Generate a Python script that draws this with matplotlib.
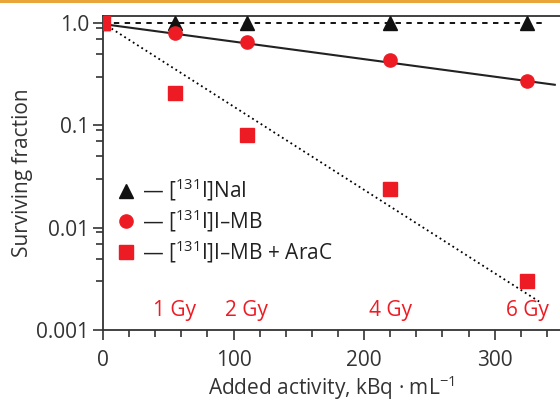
import numpy as np
import matplotlib
matplotlib.use("Agg")
import matplotlib.pyplot as plt
from matplotlib.lines import Line2D
from matplotlib.ticker import LogLocator, MultipleLocator, FixedFormatter, FixedLocator

plt.rcParams["font.family"] = ["Open Sans", "DejaVu Sans"]

# ---------------------------------------------------------
# Data
# ---------------------------------------------------------

activity = [0, 55, 110, 220, 325]

sf_nai = [1.0, 1.0, 1.0, 1.0, 1.0]
sf_mb = [1.0, 0.80, 0.66, 0.44, 0.27]
sf_mb_arac = [1.0, 0.21, 0.080, 0.024, 0.0030]

# fitted curves (end points)
fit_nai_x = [0, 338]
fit_nai_y = [1.0, 1.0]
fit_mb_x = [0, 346]
fit_mb_y = [0.98, 0.25]
fit_arac_x = [0, 334]
fit_arac_y = [1.0, 0.0019]

dose_x = [55, 110, 220, 325]
dose_labels = ["1 Gy", "2 Gy", "4 Gy", "6 Gy"]
dose_y = 0.00155

red = "#ED1C24"
axis_col = "#333333"
fs = 15

fig = plt.figure(figsize=(5.6, 4.05), dpi=100)
ax = fig.add_axes([0.184, 0.185, 0.816, 0.775])

# fits
ax.plot(fit_nai_x, fit_nai_y, color="black", lw=1.3, linestyle=(0, (3, 3)))
ax.plot(fit_mb_x, fit_mb_y, color="#222222", lw=1.5)
# dotted fit drawn in log space so it is straight
xs = np.linspace(fit_arac_x[0], fit_arac_x[1], 60)
ys = 10 ** np.interp(xs, fit_arac_x, np.log10(fit_arac_y))
ax.plot(xs, ys, color="black", lw=1.3, linestyle=(0, (1, 1.8)))

# data points
ax.plot(activity, sf_nai, linestyle="none", marker="^", ms=9.5,
        color="#111111", zorder=3)
ax.plot(activity, sf_mb, linestyle="none", marker="o", ms=9.5,
        color=red, zorder=4)
ax.plot(activity, sf_mb_arac, linestyle="none", marker="s", ms=9.5,
        color=red, zorder=5)

for x, lab in zip(dose_x, dose_labels):
    ax.text(x, dose_y, lab, color=red, fontsize=fs,
            ha="center", va="center")

ax.set_yscale("log")
ax.set_xlim(0, 350)
ax.set_ylim(0.001, 1.17)

ax.yaxis.set_major_locator(FixedLocator([0.001, 0.01, 0.1, 1.0]))
ax.yaxis.set_major_formatter(FixedFormatter(["0.001", "0.01", "0.1", "1.0"]))
ax.yaxis.set_minor_locator(LogLocator(base=10, subs=(3, 5, 7, 9)))
ax.yaxis.set_minor_formatter(FixedFormatter([]))

ax.xaxis.set_major_locator(MultipleLocator(100))
ax.xaxis.set_minor_locator(MultipleLocator(20))

ax.tick_params(which="major", direction="out", length=7, width=1.2,
               colors=axis_col, labelsize=fs, labelcolor="#333333", pad=3)
ax.tick_params(axis="x", which="major", pad=7)
ax.tick_params(which="minor", direction="out", length=5, width=1.2,
               colors=axis_col)

for side in ["left", "bottom", "top"]:
    ax.spines[side].set_color(axis_col)
    ax.spines[side].set_linewidth(1.3)
ax.spines["right"].set_visible(False)

ax.set_xlabel(r"Added activity, kBq · mL$^{\mathregular{-1}}$",
              fontsize=fs, color="#333333", labelpad=2)
ax.set_ylabel("Surviving fraction", fontsize=fs, color="#333333",
              labelpad=2)

legend_handles = [
    Line2D([0], [0], linestyle="none", marker="^", ms=9.5, color="#111111",
           label=r"— [$^{\mathregular{131}}$I]NaI"),
    Line2D([0], [0], linestyle="none", marker="o", ms=9.5, color=red,
           label=r"— [$^{\mathregular{131}}$I]I–MB"),
    Line2D([0], [0], linestyle="none", marker="s", ms=9.5, color=red,
           label=r"— [$^{\mathregular{131}}$I]I–MB + AraC"),
]
leg = ax.legend(handles=legend_handles, loc="upper left",
                bbox_to_anchor=(-0.005, 0.535), frameon=False, fontsize=15,
                handlelength=1.0, handletextpad=0.3, labelspacing=0.2,
                borderaxespad=0.3)
for t in leg.get_texts():
    t.set_color("#222222")

# orange rule along the top edge
fig.add_artist(Line2D([0, 1], [0.997, 0.997], transform=fig.transFigure,
                      color="#E9A53A", lw=2.2))

fig.savefig("out.png", dpi=100)
